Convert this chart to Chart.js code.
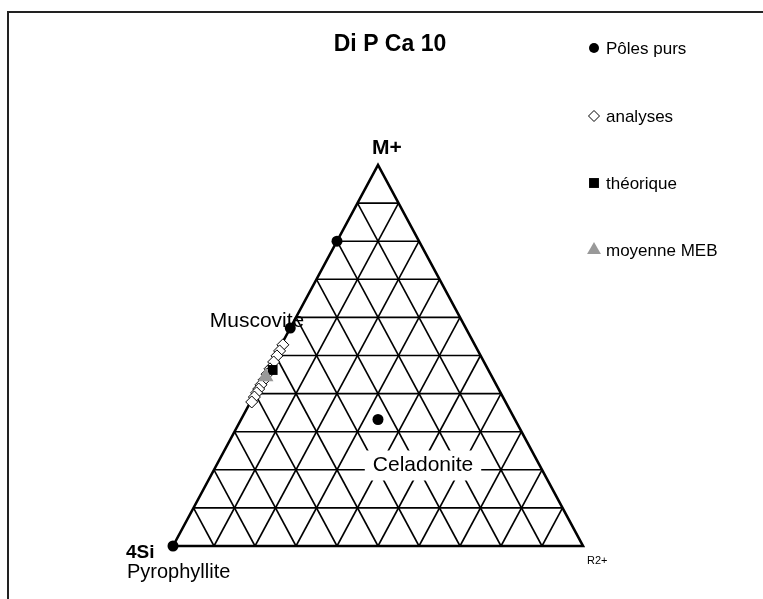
<!DOCTYPE html>
<html>
<head>
<meta charset="utf-8">
<script src="https://cdn.jsdelivr.net/npm/chart.js@4/dist/chart.umd.min.js"></script>
<style>
  body { margin: 0; background: #fff; }
  #wrap { width: 763px; height: 599px; position: relative; }
</style>
</head>
<body>
<div id="wrap"><canvas id="ternary" width="763" height="599"></canvas></div>
<script>
// ternary diagram M+ / 4Si / R2+ ; values are fractions of M+ (m) and R2+ (r), 4Si = 1 - m - r
var title = "Di P Ca 10";
var vertexNames = ["M+", "4Si", "R2+"];
var gridSteps = [0.1, 0.2, 0.3, 0.4, 0.5, 0.6, 0.7, 0.8, 0.9];

var polesNames = ["Pyrophyllite", "Muscovite", "", "Celadonite"];
var polesM = [0, 0.572, 0.80, 0.332];
var polesR = [0, 0, 0, 0.334];

var analysesM = [0.528, 0.512, 0.499, 0.483, 0.465, 0.451, 0.436, 0.423, 0.412, 0.402, 0.391, 0.378];
var analysesR = [0.004, 0.004, 0.004, 0.004, 0.004, 0.004, 0.004, 0.003, 0.003, 0.003, 0.003, 0.003];

var theoM = [0.462];
var theoR = [0.012];

var mebM = [0.444];
var mebR = [0.004];

var legendLabels = ["Pôles purs", "analyses", "théorique", "moyenne MEB"];

function tern(m, r){
	return {x: r + m / 2, y: m};
}
function pts(ms, rs){
	var out = [];
	for (var i = 0; i < ms.length; i++) out.push(tern(ms[i], rs[i]));
	return out;
}

var datasets = [];
// grid lines
gridSteps.forEach(function(t){
	var segs = [
		[tern(t, 0), tern(t, 1 - t)],
		[tern(0, t), tern(1 - t, t)],
		[tern(1 - t, 0), tern(0, 1 - t)]
	];
	segs.forEach(function(s){
		datasets.push({type: "line", data: s, borderColor: "#000", borderWidth: 1.6,
			pointRadius: 0, fill: false, order: 10, clip: false});
	});
});
// outer triangle
datasets.push({type: "line", data: [tern(0,0), tern(1,0), tern(0,1), tern(0,0)],
	borderColor: "#000", borderWidth: 2.6, pointRadius: 0, fill: false, order: 9, clip: false});

datasets.push({type: "scatter", label: legendLabels[1], data: pts(analysesM, analysesR),
	pointStyle: "rectRot", pointRadius: 6, backgroundColor: "#fff", borderColor: "#000", borderWidth: 1, order: 4, clip: false});
datasets.push({type: "scatter", label: legendLabels[2], data: pts(theoM, theoR),
	pointStyle: "rect", pointRadius: 7, backgroundColor: "#000", borderColor: "#000", borderWidth: 0, order: 3, clip: false});
datasets.push({type: "scatter", label: legendLabels[3], data: pts(mebM, mebR),
	pointStyle: "triangle", pointRadius: 9, backgroundColor: "#999", borderColor: "#999", borderWidth: 0, order: 2, clip: false});
datasets.push({type: "scatter", label: legendLabels[0], data: pts(polesM, polesR),
	pointStyle: "circle", pointRadius: 5.5, backgroundColor: "#000", borderColor: "#000", borderWidth: 0, order: 1, clip: false});

var decor = {
	id: "decor",
	beforeDraw: function(chart){
		var c = chart.ctx;
		c.save();
		c.fillStyle = "#fff";
		c.fillRect(0, 0, chart.width, chart.height);
		c.strokeStyle = "#222";
		c.lineWidth = 2;
		c.beginPath();
		c.moveTo(8, chart.height); c.lineTo(8, 12); c.lineTo(chart.width, 12);
		c.stroke();
		c.restore();
	},
	afterDraw: function(chart){
		var c = chart.ctx, xs = chart.scales.x, ys = chart.scales.y;
		function px(m, r){ var p = tern(m, r); return [xs.getPixelForValue(p.x), ys.getPixelForValue(p.y)]; }
		c.save();
		c.fillStyle = "#000";
		c.textBaseline = "middle";
		// title
		c.font = "bold 23px 'Liberation Sans', Arial";
		c.textAlign = "center";
		c.fillText(title, 390, 45);
		// vertex names
		var top = px(1, 0), left = px(0, 0), right = px(0, 1);
		c.font = "bold 21px 'Liberation Sans', Arial";
		c.fillText(vertexNames[0], top[0] + 9, top[1] - 17);
		c.textAlign = "left";
		c.font = "bold 19px 'Liberation Sans', Arial";
		c.fillText(vertexNames[1], left[0] - 47, left[1] + 7);
		c.font = "11px 'Liberation Sans', Arial";
		c.fillText(vertexNames[2], right[0] + 4, right[1] + 15);
		// pole names
		c.font = "20px 'Liberation Sans', Arial";
		var p0 = px(polesM[0], polesR[0]);
		c.fillText(polesNames[0], p0[0] - 46, p0[1] + 26);
		var p1 = px(polesM[1], polesR[1]);
		c.font = "21px 'Liberation Sans', Arial";
		c.textAlign = "right";
		c.fillText(polesNames[1], p1[0] + 14, p1[1] - 7);
		var p3 = px(polesM[3], polesR[3]);
		var w = c.measureText(polesNames[3]).width;
		var cx = p3[0] + 45, cy = p3[1] + 46;
		c.fillStyle = "#fff";
		c.fillRect(cx - w / 2 - 8, cy - 15, w + 16, 30);
		c.fillStyle = "#000";
		c.textAlign = "center";
		c.fillText(polesNames[3], cx, cy);
		// legend
		var order = [datasets.length - 1, datasets.length - 4, datasets.length - 3, datasets.length - 2];
		var sizes = [5, 5.5, 7, 8];
		var rows = [48, 116, 183, 250];
		c.textAlign = "left";
		c.font = "17px 'Liberation Sans', Arial";
		order.forEach(function(di, k){
			var ds = chart.data.datasets[di];
			var y = rows[k];
			c.fillStyle = ds.backgroundColor;
			c.strokeStyle = ds.borderColor;
			c.lineWidth = ds.borderWidth;
			Chart.helpers.drawPoint(c, {pointStyle: ds.pointStyle, radius: sizes[k],
				borderWidth: ds.borderWidth, rotation: 0}, 594, y);
			c.fillStyle = "#000";
			c.fillText(ds.label, 606, y + 1);
		});
		c.restore();
	}
};

new Chart(document.getElementById("ternary").getContext("2d"), {
	type: "scatter",
	data: {datasets: datasets},
	options: {
		responsive: false,
		animation: false,
		layout: {padding: {left: 173, right: 180, top: 165, bottom: 53}},
		scales: {
			x: {type: "linear", min: 0, max: 1, display: false},
			y: {type: "linear", min: 0, max: 1, display: false}
		},
		plugins: {legend: {display: false}, tooltip: {enabled: false}}
	},
	plugins: [decor]
});
</script>
</body>
</html>
